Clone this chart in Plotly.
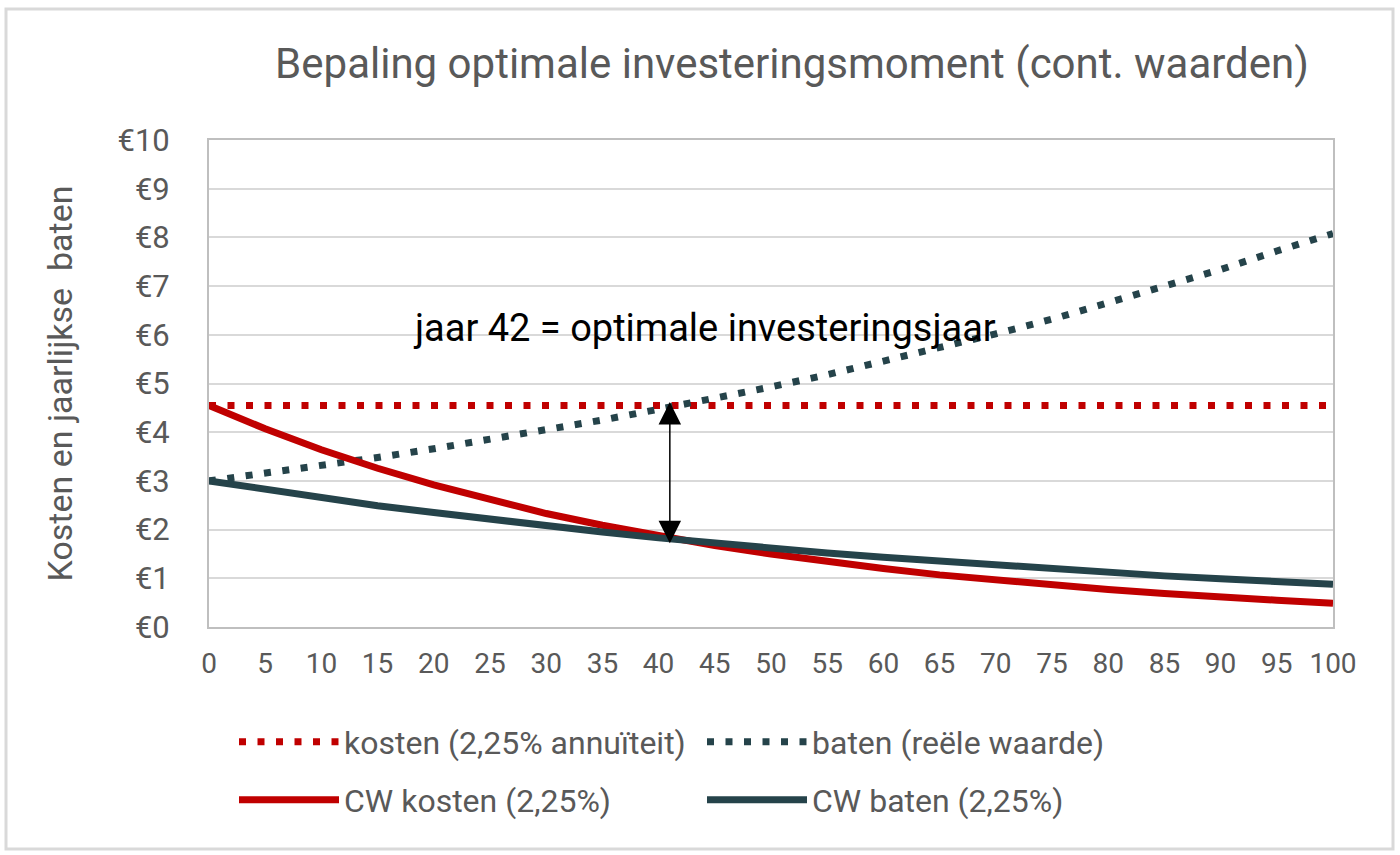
import plotly.graph_objects as go

# ---- data ----
years = [0, 5, 10, 15, 20, 25, 30, 35, 40, 45, 50, 55, 60, 65, 70, 75, 80, 85, 90, 95, 100]
kosten_annuiteit = [4.55] * 21
baten_reeel = [3.00, 3.15, 3.31, 3.48, 3.66, 3.85, 4.04, 4.25, 4.47, 4.69, 4.93,
               5.18, 5.45, 5.73, 6.02, 6.32, 6.65, 6.99, 7.34, 7.72, 8.08]
cw_kosten = [4.55, 4.07, 3.64, 3.26, 2.92, 2.61, 2.33, 2.09, 1.87, 1.67, 1.50,
             1.34, 1.20, 1.07, 0.96, 0.86, 0.77, 0.69, 0.61, 0.55, 0.49]
cw_baten = [3.00, 2.82, 2.65, 2.49, 2.35, 2.21, 2.07, 1.95, 1.83, 1.72, 1.62,
            1.52, 1.43, 1.35, 1.27, 1.19, 1.12, 1.05, 0.99, 0.93, 0.88]
series_names = ["kosten (2,25% annuïteit)", "baten (reële waarde)",
                "CW kosten (2,25%)", "CW baten (2,25%)"]
optimal_year = 41
arrow_top, arrow_bottom = 4.65, 1.72
annotation_text = "jaar 42 = optimale investeringsjaar"
chart_title = "Bepaling optimale investeringsmoment (cont. waarden)"
y_title = "Kosten en jaarlijkse\u00a0 baten"

RED = "#C00000"
TEAL = "#25434A"
GREY_TXT = "#595959"
FONT = "Roboto, sans-serif"
DOT = "7px,11.5px"

L, R, T, B = 209, 67, 140, 228
W, H = 1400, 855
PW, PH = W - L - R, H - T - B

def px2paper_x(px):
    return (px - L) / PW

def px2paper_y(py):
    return (H - B - py) / PH

fig = go.Figure()
fig.add_trace(go.Scatter(x=years, y=kosten_annuiteit, mode="lines", name=series_names[0],
                         line=dict(color=RED, width=7, dash=DOT), legend="legend"))
fig.add_trace(go.Scatter(x=years, y=baten_reeel, mode="lines", name=series_names[1],
                         line=dict(color=TEAL, width=7, dash=DOT), legend="legend2"))
fig.add_trace(go.Scatter(x=years, y=cw_kosten, mode="lines", name=series_names[2],
                         line=dict(color=RED, width=7), legend="legend3"))
fig.add_trace(go.Scatter(x=years, y=cw_baten, mode="lines", name=series_names[3],
                         line=dict(color=TEAL, width=7), legend="legend4"))

leg_common = dict(orientation="v", font=dict(family=FONT, size=32, color=GREY_TXT),
                  bgcolor="rgba(0,0,0,0)", xanchor="left", yanchor="middle",
                  itemwidth=100, visible=True)
fig.update_layout(
    showlegend=True,
    legend=dict(x=px2paper_x(234), y=px2paper_y(742), **leg_common),
    legend2=dict(x=px2paper_x(702), y=px2paper_y(742), **leg_common),
    legend3=dict(x=px2paper_x(234), y=px2paper_y(800), **leg_common),
    legend4=dict(x=px2paper_x(702), y=px2paper_y(800), **leg_common),
)

fig.add_annotation(x=optimal_year, y=arrow_bottom, ax=optimal_year, ay=arrow_top,
                   xref="x", yref="y", axref="x", ayref="y", text="",
                   showarrow=True, arrowhead=2, startarrowhead=2, arrowside="end+start",
                   arrowwidth=1.5, arrowsize=3, startarrowsize=3, arrowcolor="black")
fig.add_annotation(x=18, y=6.13, xref="x", yref="y", text=annotation_text,
                   showarrow=False, xanchor="left", yanchor="middle",
                   font=dict(family=FONT, size=38, color="black"))

# outer chart border
fig.add_shape(type="rect", xref="paper", yref="paper",
              x0=px2paper_x(6), x1=px2paper_x(1393), y0=px2paper_y(849), y1=px2paper_y(9),
              line=dict(color="#D9D9D9", width=3), layer="below")

fig.update_layout(
    width=W, height=H,
    margin=dict(l=L, r=R, t=T, b=B),
    paper_bgcolor="white", plot_bgcolor="white",
    title=dict(text=chart_title,
               x=px2paper_x(792), xref="paper", xanchor="center",
               y=1 - 63 / H, yref="container", yanchor="middle",
               font=dict(family=FONT, size=42, color=GREY_TXT)),
    xaxis=dict(range=[0, 100], dtick=5, tick0=0, showgrid=False,
               showline=True, linecolor="#BFBFBF", linewidth=2, mirror=True,
               ticks="", ticklabelstandoff=10,
               tickfont=dict(family=FONT, size=28, color=GREY_TXT), zeroline=False),
    yaxis=dict(range=[0, 10], dtick=1, tick0=0, tickprefix="€",
               showgrid=True, gridcolor="#D9D9D9", gridwidth=2,
               showline=True, linecolor="#BFBFBF", linewidth=2, mirror=True,
               ticks="", ticklabelstandoff=31, zeroline=False,
               tickfont=dict(family=FONT, size=31, color=GREY_TXT),
               title=dict(text=y_title, standoff=35,
                          font=dict(family=FONT, size=34, color=GREY_TXT))),
)

fig.write_html("out.html", config={"displayModeBar": False},
               post_script="document.body.style.margin='0px';")
